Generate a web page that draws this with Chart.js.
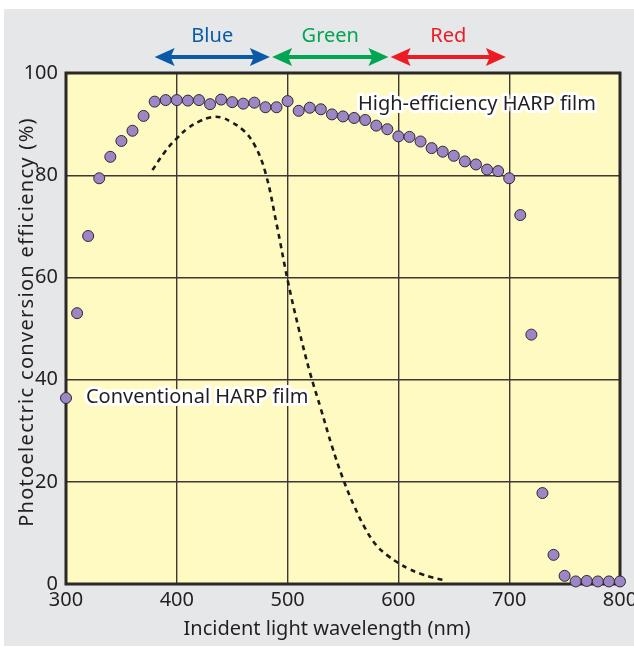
<!DOCTYPE html>
<html>
<head>
<meta charset="utf-8">
<script src="https://cdn.jsdelivr.net/npm/chart.js@4"></script>
<style>
  html, body { margin: 0; padding: 0; background: #fff; }
  #wrap { width: 634px; height: 647px; }
</style>
</head>
<body>
<div id="wrap"><canvas id="chart" width="634" height="647"></canvas></div>
<script>
// wavelengths (nm) of the high-efficiency film measurements
const wavelengths = [300, 310, 320, 330, 340, 350, 360, 370, 380, 390,
	400, 410, 420, 430, 440, 450, 460, 470, 480, 490,
	500, 510, 520, 530, 540, 550, 560, 570, 580, 590,
	600, 610, 620, 630, 640, 650, 660, 670, 680, 690,
	700, 710, 720, 730, 740, 750, 760, 770, 780, 790, 800];
const highEfficiency = [36.4, 53.0, 68.1, 79.4, 83.6, 86.7, 88.7, 91.6, 94.4, 94.7,
	94.7, 94.6, 94.7, 93.9, 94.8, 94.3, 94.0, 94.2, 93.3, 93.3,
	94.5, 92.6, 93.2, 92.9, 91.9, 91.5, 91.2, 90.8, 89.7, 89.0,
	87.6, 87.5, 86.6, 85.3, 84.6, 83.8, 82.7, 82.1, 81.1, 80.8,
	79.4, 72.2, 48.8, 17.8, 5.7, 1.6, 0.5, 0.6, 0.5, 0.5, 0.5];

// conventional film curve (dashed)
const convWavelengths = [378, 390, 400, 410, 420, 430, 440, 450, 460, 470, 480,
	490, 500, 510, 520, 530, 540, 550, 560, 570, 580, 590, 600, 610, 620, 630, 640];
const conventional = [81.0, 84.8, 87.2, 89.2, 90.5, 91.3, 91.3, 90.3, 88.8, 86.0, 80.5,
	70.5, 59.5, 50.0, 41.5, 34.3, 27.0, 20.6, 15.3, 10.9, 7.6, 5.6, 4.1, 2.9, 2.0, 1.3, 0.8];

const xTicks = [300, 400, 500, 600, 700, 800];
const yTicks = [0, 20, 40, 60, 80, 100];

const bandNames = ["Blue", "Green", "Red"];
const bandFrom = [380, 486, 593];
const bandTo = [484, 591, 697];
const bandColors = ["#0b5aa8", "#00a651", "#ed1c24"];

const curveLabels = ["High-efficiency HARP film", "Conventional HARP film"];
const labelX = [563.5, 318];
const labelY = [93.9, 36.6];

const FONT = "'Noto Sans', sans-serif";
const INK = "#231f20";

const toPoints = (xs, ys) => xs.map((x, i) => ({ x: x, y: ys[i] }));

const backdrop = {
	id: "backdrop",
	beforeDraw(chart) {
		const c = chart.ctx, a = chart.chartArea;
		c.save();
		c.fillStyle = "#ffffff";
		c.fillRect(0, 0, chart.width, chart.height);
		c.fillStyle = "#e6e7e9";
		c.fillRect(4, 9, chart.width - 4, chart.height - 10);
		c.fillStyle = "#fff9c2";
		c.fillRect(a.left, a.top, a.right - a.left, a.bottom - a.top);
		c.restore();
	},
	beforeDatasetsDraw(chart) {
		const c = chart.ctx, a = chart.chartArea;
		c.save();
		c.strokeStyle = "#2b2826";
		c.lineWidth = 3;
		c.strokeRect(a.left, a.top, a.right - a.left, a.bottom - a.top);
		c.restore();
	},
	afterDatasetsDraw(chart) {
		const c = chart.ctx, a = chart.chartArea;
		const xs = chart.scales.x, ys = chart.scales.y;
		c.save();
		// curve labels with white halo
		c.font = "20px " + FONT;
		c.textBaseline = "middle";
		c.textAlign = "left";
		c.lineJoin = "round";
		curveLabels.forEach((t, i) => {
			const px = xs.getPixelForValue(labelX[i]);
			const py = ys.getPixelForValue(labelY[i]);
			c.strokeStyle = "#ffffff";
			c.lineWidth = 6;
			c.strokeText(t, px, py);
			c.fillStyle = INK;
			c.fillText(t, px, py);
		});
		// colour band arrows above the plot
		const ay = a.top - 16;
		bandNames.forEach((name, i) => {
			const x0 = xs.getPixelForValue(bandFrom[i]);
			const x1 = xs.getPixelForValue(bandTo[i]);
			c.fillStyle = bandColors[i];
			c.strokeStyle = bandColors[i];
			c.lineWidth = 4;
			c.beginPath();
			c.moveTo(x0 + 14, ay);
			c.lineTo(x1 - 14, ay);
			c.stroke();
			c.beginPath();
			c.moveTo(x0, ay);
			c.lineTo(x0 + 20, ay - 9);
			c.lineTo(x0 + 16, ay);
			c.lineTo(x0 + 20, ay + 9);
			c.closePath();
			c.fill();
			c.beginPath();
			c.moveTo(x1, ay);
			c.lineTo(x1 - 20, ay - 9);
			c.lineTo(x1 - 16, ay);
			c.lineTo(x1 - 20, ay + 9);
			c.closePath();
			c.fill();
			c.font = "20px " + FONT;
			c.textAlign = "center";
			c.textBaseline = "middle";
			c.fillText(name, (x0 + x1) / 2, a.top - 37);
		});
		// axis titles
		c.fillStyle = INK;
		c.font = "20px " + FONT;
		c.textAlign = "center";
		c.textBaseline = "middle";
		c.fillText("Incident light wavelength (nm)", 327, 629);
		c.translate(27, 322);
		c.rotate(-Math.PI / 2);
		c.letterSpacing = "1.3px";
		c.fillText("Photoelectric conversion efficiency (%)", 0, 0);
		c.restore();
	}
};

new Chart(document.getElementById("chart"), {
	type: "scatter",
	data: {
		datasets: [
			{
				label: "High-efficiency HARP film",
				data: toPoints(wavelengths, highEfficiency),
				backgroundColor: "#9c86c4",
				borderColor: "#2e2838",
				borderWidth: 1,
				pointRadius: 5.5,
				order: 1,
			},
			{
				label: "Conventional HARP film",
				data: toPoints(convWavelengths, conventional),
				showLine: true,
				borderColor: "#1a1a1a",
				borderWidth: 2.6,
				borderDash: [5, 4.5],
				pointRadius: 0,
				tension: 0.4,
				order: 2,
			},
		],
	},
	options: {
		responsive: false,
		animation: false,
		clip: false,
		layout: { padding: { top: 73, right: 14, bottom: 0, left: 0 } },
		plugins: {
			legend: { display: false },
			tooltip: { enabled: false },
		},
		scales: {
			x: {
				type: "linear",
				min: 300,
				max: 800,
				afterFit(s) { s.height = 63; s.paddingLeft = 0; s.paddingRight = 0; },
				afterBuildTicks(s) { s.ticks = xTicks.map(v => ({ value: v })); },
				grid: { color: "#3d3935", lineWidth: 1.4, drawTicks: false },
				border: { display: false },
				ticks: { font: { family: FONT, size: 20 }, color: INK, padding: 4 },
			},
			y: {
				type: "linear",
				min: 0,
				max: 100,
				afterFit(s) { s.width = 66; s.paddingTop = 0; s.paddingBottom = 0; },
				afterBuildTicks(s) { s.ticks = yTicks.map(v => ({ value: v })); },
				grid: { color: "#3d3935", lineWidth: 1.4, drawTicks: false },
				border: { display: false },
				ticks: { font: { family: FONT, size: 20 }, color: INK, padding: 8 },
			},
		},
	},
	plugins: [backdrop],
});
</script>
</body>
</html>
